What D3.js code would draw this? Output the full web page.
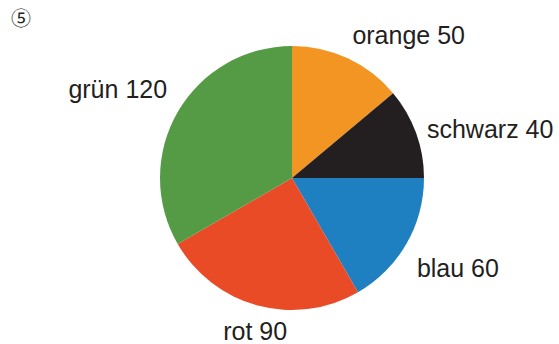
<!DOCTYPE html>
<html>
<head>
<meta charset="utf-8">
<script src="https://cdn.jsdelivr.net/npm/d3@7"></script>
<style>
html,body{margin:0;padding:0;background:#fff;}
svg{display:block;}
</style>
</head>
<body>
<svg id="chart" width="559" height="344"></svg>
<script>
const categories = ["orange", "schwarz", "blau", "rot", "grün"];
const values = [50, 40, 60, 90, 120];
const colors = ["#F29522", "#231F20", "#1E80C0", "#EA4B27", "#559B46"];
const marker = "⑤";

const svg = d3.select("#chart");
const cx = 292, cy = 178, R = 132;
const data = categories.map((c, i) => ({cat: c, value: values[i], color: colors[i]}));

const pie = d3.pie().value(d => d.value).sort(null);
const arc = d3.arc().innerRadius(0).outerRadius(R);
const labelArc = d3.arc().innerRadius(150).outerRadius(150);

const g = svg.append("g").attr("transform", `translate(${cx},${cy})`);
const arcs = pie(data);

g.selectAll("path").data(arcs).enter().append("path")
  .attr("d", arc)
  .attr("fill", d => d.data.color);

// label placement nudges (layout only)
const nudge = {
  "orange": [-3, -7],
  "schwarz": [-6, 3],
  "blau": [-5, 15],
  "rot": [2, 8],
  "grün": [5, -14]
};
g.selectAll("text.lbl").data(arcs).enter().append("text")
  .attr("class", "lbl")
  .attr("transform", d => {
    const [x, y] = labelArc.centroid(d);
    const n = nudge[d.data.cat];
    return `translate(${x + n[0]},${y + n[1]})`;
  })
  .attr("dy", "0.35em")
  .attr("text-anchor", d => {
    const [x] = labelArc.centroid(d);
    if (Math.abs(x) < 60) return "middle";
    return x > 0 ? "start" : "end";
  })
  .style("font-family", "'Liberation Sans', Arial, sans-serif")
  .attr("font-size", 25)
  .attr("fill", "#231F20")
  .text(d => `${d.data.cat} ${d.data.value}`);

svg.append("text")
  .attr("x", 21).attr("y", 26)
  .attr("text-anchor", "middle")
  .style("font-family", "'Noto Sans CJK JP', 'DejaVu Sans', sans-serif")
  .attr("font-size", 20)
  .attr("fill", "#231F20")
  .text(marker);
</script>
</body>
</html>
